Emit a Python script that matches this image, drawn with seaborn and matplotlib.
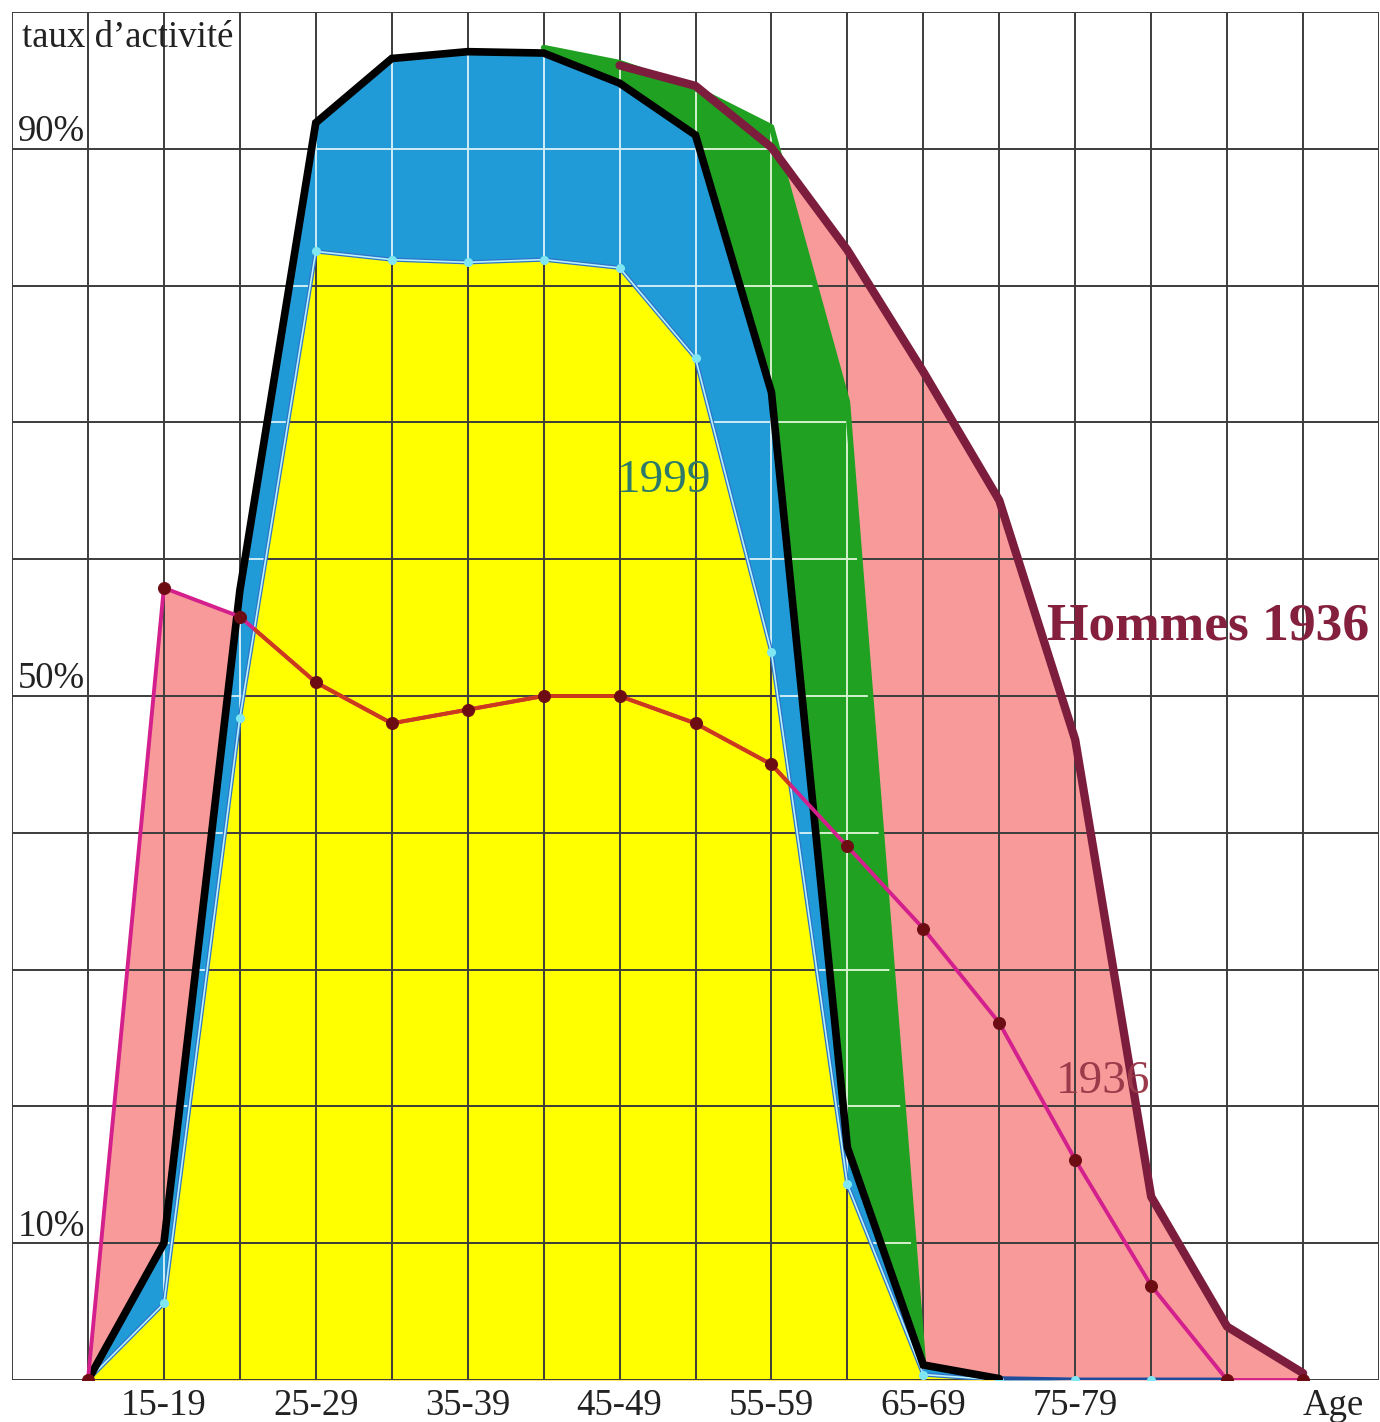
import numpy as np
import pandas as pd
import matplotlib
matplotlib.use("Agg")
import matplotlib.pyplot as plt
import seaborn as sns
from matplotlib.collections import LineCollection

# ---------------- data (activity rate, %) ----------------
age_groups = ["10-14", "15-19", "20-24", "25-29", "30-34", "35-39", "40-44",
              "45-49", "50-54", "55-59", "60-64", "65-69", "70-74", "75-79",
              "80-84", "85-89", "90+"]
nan = np.nan
women_1936 = [0, 57.9, 55.8, 51.0, 48.0, 49.0, 50.0, 50.0, 48.0, 45.0, 39.0,
              33.0, 26.1, 16.1, 6.9, 0, 0]
men_1936 = [nan, nan, nan, nan, nan, nan, nan, 96.1, 94.6, 90.1, 82.6, 73.7,
            64.3, 46.8, 13.4, 3.9, 0.5]
men_intermediate = [nan, nan, nan, nan, nan, nan, 97.4, 96.3, 94.4, 91.6, 71.5,
                    1.2, nan, nan, nan, nan, nan]
men_1999 = [0, 10.0, 57.7, 91.9, 96.6, 97.1, 97.0, 94.8, 91.0, 72.2, 17.0, 1.1,
            0.1, 0, 0, 0, nan]
women_1999 = [0, 5.6, 48.4, 82.5, 81.9, 81.7, 81.9, 81.3, 74.7, 53.2, 14.3,
              0.4, 0, 0, 0, 0, nan]
tick_positions = [1, 3, 5, 7, 9, 11, 13, 16]
tick_labels = ["15-19", "25-29", "35-39", "45-49", "55-59", "65-69", "75-79", "Age"]
y_labels = ["90%", "50%", "10%"]
y_label_values = [90, 50, 10]

# ---------------- styling ----------------
sns.set_theme(style="white")
plt.rcParams["font.family"] = ["Liberation Serif", "DejaVu Serif"]

PINK = "#f99a9a"
GREEN = "#21a121"
BLUE = "#219bd7"
YELLOW = "#ffff00"
MAROON = "#7d1d3d"
MAGENTA = "#d4208c"
RED = "#cc3a1c"
TXT = 26.5

x = np.arange(len(age_groups), dtype=float)
w36 = np.array(women_1936, float)
m36 = np.array(men_1936, float)
mid = np.array(men_intermediate, float)
m99 = np.array(men_1999, float)
w99 = np.array(women_1999, float)

fig = plt.figure(figsize=(13.8, 14.22), dpi=100)
ax = fig.add_axes([12 / 1380, 42 / 1422, 1367 / 1380, 1368 / 1422])
ax.set_xlim(-1, 17)
ax.set_ylim(0, 100)
ax.set_facecolor("white")

# ---------------- fills ----------------
pink_top = np.fmax(w36, m36)
ax.fill_between(x, 0, pink_top, color=PINK, lw=0, zorder=1)

gm = ~np.isnan(mid)
green_poly = ax.fill_between(x[gm], m99[gm], mid[gm], color=GREEN, lw=0, zorder=2)

bm = ~np.isnan(m99)
blue_poly = ax.fill_between(x[bm], w99[bm], m99[bm], color=BLUE, lw=0, zorder=2)
yellow_poly = ax.fill_between(x[bm], 0, w99[bm], color=YELLOW, lw=0, zorder=2)

# ---------------- grid ----------------
def grid_segments():
    segs = [[(v, 0), (v, 100)] for v in range(-1, 18)]
    segs += [[(-1, h), (17, h)] for h in range(0, 101, 10)]
    return segs

ax.add_collection(LineCollection(grid_segments(), colors="#3c3c3c",
                                 linewidths=1.4, zorder=4))
for poly, col in [(blue_poly, "#cdeefa"), (green_poly, "#d6f3cf")]:
    lc = LineCollection(grid_segments(), colors=col, linewidths=1.4, zorder=4.5)
    ax.add_collection(lc)
    lc.set_clip_path(poly.get_paths()[0], transform=ax.transData)

# ---------------- lines ----------------
# intermediate men curve (green)
ax.plot(x[gm], mid[gm], color=GREEN, lw=4, zorder=5, solid_joinstyle="round")

# men 1936
mm = ~np.isnan(m36)
df_m36 = pd.DataFrame({"x": x[mm], "y": m36[mm]})
sns.lineplot(data=df_m36, x="x", y="y", color=MAROON, lw=6, ax=ax, zorder=8,
             sort=False)

# women 1999
df_w99 = pd.DataFrame({"x": x[bm], "y": w99[bm]})
sns.lineplot(data=df_w99, x="x", y="y", color="#2f74c8", lw=3, ax=ax,
             zorder=6, sort=False)
ax.plot(x[bm], w99[bm], color="#b8f2fb", lw=1.2, zorder=6.2)

# men 1999
ax.plot(x[:13], m99[:13], color="black", lw=5.5, zorder=7,
        solid_joinstyle="miter")
ax.plot(x[12:16], m99[12:16], color="#1f4d9c", lw=3.5, zorder=6.5)

ax.plot(x[bm], w99[bm], lw=0, zorder=6.8, marker="o", markersize=5.5,
        markerfacecolor="#7fe6f2", markeredgecolor="#7fe6f2")

# women 1936
df_w36 = pd.DataFrame({"x": x, "y": w36})
sns.lineplot(data=df_w36, x="x", y="y", color=MAGENTA, lw=2.8, ax=ax,
             zorder=9, sort=False)
red_line, = ax.plot(x, w36, color=RED, lw=2.8, zorder=9.2)
red_line.set_clip_path(yellow_poly.get_paths()[0], transform=ax.transData)
sns.scatterplot(data=df_w36, x="x", y="y", color="#6e0c14", s=75,
                edgecolor="#6e0c14", ax=ax, zorder=10)

# ---------------- texts ----------------
ax.text(-0.87, 97.45, "taux d\u2019activit\u00e9", fontsize=TXT, color="#222222",
        ha="left", va="baseline", zorder=11)
for lab, val in zip(y_labels, y_label_values):
    ax.text(-0.92, val + 0.55, lab, fontsize=TXT, color="#222222", ha="left",
            va="baseline", zorder=11)
ax.text(6.97, 64.9, "1999", fontsize=34, color="#2e7a6a", ha="left",
        va="baseline", zorder=11)
ax.text(12.74, 21.0, "1936", fontsize=34, color="#9a3a4a", ha="left",
        va="baseline", zorder=11)
ax.text(12.63, 54.1, "Hommes 1936", fontsize=38.5, color="#84203e",
        fontweight="bold", ha="left", va="baseline", zorder=11)

ax.set_xticks(tick_positions)
ax.set_xticklabels(tick_labels, fontsize=TXT, color="#222222")
ax.get_xticklabels()[-1].set_ha("left")
ax.tick_params(axis="x", length=0, pad=6)
ax.set_yticks([])
ax.set_xlabel("")
ax.set_ylabel("")
for s in ax.spines.values():
    s.set_visible(False)
if ax.get_legend() is not None:
    ax.get_legend().remove()

fig.savefig("out.png", dpi=100, facecolor="white")
